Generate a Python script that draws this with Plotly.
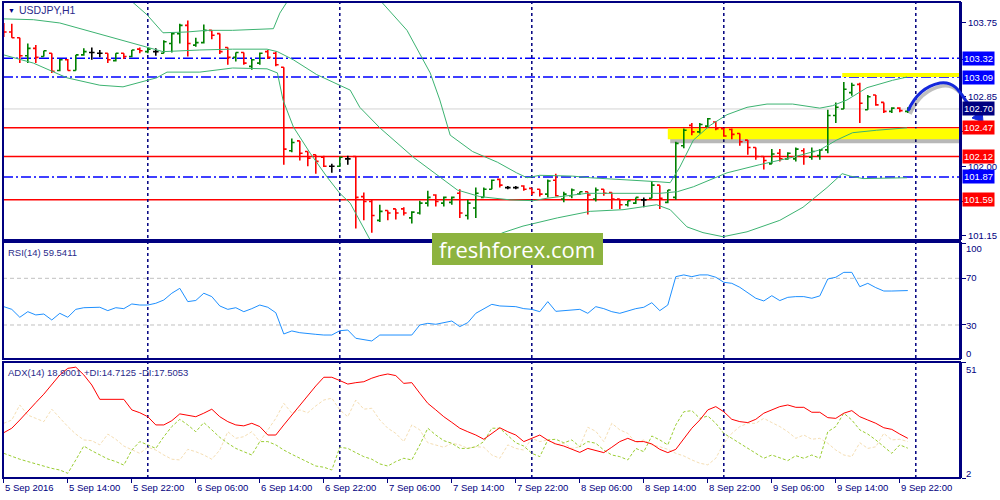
import plotly.graph_objects as go

# ---------------- data ----------------
x_tick_index = [0, 8, 16, 24, 32, 40, 48, 56, 64, 72, 80, 88, 96, 104, 112]
x_tick_labels = ["5 Sep 2016", "5 Sep 14:00", "5 Sep 22:00", "6 Sep 06:00", "6 Sep 14:00",
                 "6 Sep 22:00", "7 Sep 06:00", "7 Sep 14:00", "7 Sep 22:00", "8 Sep 06:00",
                 "8 Sep 14:00", "8 Sep 22:00", "9 Sep 06:00", "9 Sep 14:00", "9 Sep 22:00"]
day_separator_index = [18, 42, 66, 90, 114]

bar_open = [103.70, 103.64, 103.57, 103.35, 103.44, 103.34, 103.38, 103.17, 103.30, 103.17,
            103.36, 103.39, 103.38, 103.38, 103.29, 103.38, 103.34, 103.43, 103.40, 103.40,
            103.38, 103.50, 103.62, 103.72, 103.48, 103.51, 103.66, 103.62, 103.45, 103.33,
            103.39, 103.22, 103.26, 103.40, 103.38, 103.21, 102.19, 102.31, 102.18, 102.14,
            102.11, 102.00, 102.00, 102.09, 102.12, 101.63, 101.57, 101.34, 101.46, 101.48,
            101.48, 101.37, 101.43, 101.55, 101.65, 101.55, 101.56, 101.67, 101.40, 101.49,
            101.62, 101.72, 101.84, 101.74, 101.74, 101.76, 101.73, 101.72, 101.66, 101.83,
            101.60, 101.64, 101.66, 101.69, 101.60, 101.72, 101.68, 101.60, 101.53, 101.55,
            101.59, 101.61, 101.77, 101.56, 101.62, 102.25, 102.50, 102.42, 102.49, 102.54,
            102.46, 102.45, 102.40, 102.32, 102.23, 102.12, 102.03, 102.16, 102.09, 102.09,
            102.19, 102.11, 102.13, 102.20, 102.62, 102.70, 102.90, 103.00, 102.69, 102.87,
            102.78, 102.67, 102.71, 102.67]
bar_high = [103.75, 103.74, 103.57, 103.50, 103.48, 103.41, 103.38, 103.31, 103.31, 103.36,
            103.44, 103.45, 103.42, 103.38, 103.38, 103.38, 103.42, 103.45, 103.45, 103.44,
            103.54, 103.63, 103.74, 103.78, 103.57, 103.73, 103.66, 103.62, 103.45, 103.39,
            103.39, 103.31, 103.39, 103.42, 103.40, 103.21, 102.34, 102.31, 102.18, 102.14,
            102.13, 102.03, 102.12, 102.13, 102.12, 101.68, 101.59, 101.53, 101.46, 101.48,
            101.50, 101.45, 101.58, 101.70, 101.66, 101.63, 101.63, 101.72, 101.59, 101.74,
            101.74, 101.84, 101.85, 101.76, 101.76, 101.77, 101.73, 101.72, 101.84, 101.91,
            101.69, 101.73, 101.69, 101.69, 101.74, 101.72, 101.68, 101.60, 101.58, 101.62,
            101.62, 101.82, 101.77, 101.71, 102.30, 102.46, 102.53, 102.53, 102.59, 102.55,
            102.47, 102.46, 102.40, 102.32, 102.23, 102.12, 102.21, 102.21, 102.17, 102.23,
            102.22, 102.23, 102.21, 102.69, 102.78, 103.03, 103.02, 103.02, 102.87, 102.87,
            102.78, 102.72, 102.72, 102.72]
bar_low = [103.58, 103.57, 103.26, 103.26, 103.26, 103.34, 103.14, 103.16, 103.17, 103.17,
           103.35, 103.30, 103.33, 103.26, 103.28, 103.31, 103.33, 103.38, 103.38, 103.35,
           103.38, 103.39, 103.50, 103.34, 103.46, 103.50, 103.55, 103.37, 103.24, 103.28,
           103.24, 103.18, 103.24, 103.31, 103.22, 102.02, 102.17, 102.07, 102.00, 101.91,
           101.99, 101.92, 101.99, 102.02, 101.24, 101.34, 101.19, 101.32, 101.34, 101.35,
           101.40, 101.30, 101.41, 101.51, 101.51, 101.51, 101.53, 101.37, 101.35, 101.37,
           101.62, 101.72, 101.74, 101.72, 101.72, 101.70, 101.65, 101.63, 101.62, 101.63,
           101.56, 101.61, 101.65, 101.41, 101.57, 101.64, 101.48, 101.48, 101.51, 101.54,
           101.50, 101.61, 101.48, 101.55, 101.59, 102.22, 102.38, 102.40, 102.47, 102.44,
           102.36, 102.33, 102.25, 102.14, 102.08, 101.96, 102.03, 102.06, 102.08, 102.06,
           102.02, 102.08, 102.08, 102.16, 102.53, 102.70, 102.86, 102.53, 102.69, 102.74,
           102.65, 102.65, 102.66, 102.65]
bar_close = [103.64, 103.57, 103.35, 103.44, 103.33, 103.41, 103.16, 103.30, 103.17, 103.36,
             103.40, 103.39, 103.38, 103.30, 103.38, 103.34, 103.42, 103.41, 103.43, 103.40,
             103.52, 103.62, 103.72, 103.50, 103.51, 103.66, 103.60, 103.40, 103.33, 103.39,
             103.26, 103.30, 103.38, 103.33, 103.24, 102.21, 102.29, 102.16, 102.10, 102.06,
             102.00, 102.00, 102.11, 102.09, 101.62, 101.57, 101.40, 101.45, 101.43, 101.43,
             101.43, 101.44, 101.55, 101.62, 101.57, 101.62, 101.62, 101.43, 101.55, 101.67,
             101.72, 101.83, 101.77, 101.74, 101.74, 101.72, 101.68, 101.66, 101.82, 101.64,
             101.66, 101.71, 101.69, 101.65, 101.71, 101.67, 101.60, 101.53, 101.58, 101.62,
             101.59, 101.77, 101.61, 101.71, 102.28, 102.44, 102.42, 102.51, 102.58, 102.46,
             102.37, 102.39, 102.30, 102.23, 102.12, 102.07, 102.15, 102.09, 102.16, 102.21,
             102.12, 102.18, 102.20, 102.62, 102.72, 102.94, 102.99, 102.77, 102.85, 102.75,
             102.67, 102.71, 102.68, 102.70]

bb_upper_x = [0, 8, 14, 15.8, 17.9, 19.9, 22.9, 25.4, 28.6, 33.7, 34.5, 35.4, 38, 44, 47.0,
              50.4, 53.3, 54.5, 55.8, 58.6, 61.7, 64.1, 65.4, 67.0, 71.1, 73.3, 79.5, 82.0,
              83.3, 84.5, 86.2, 88.3, 90.4, 92.9, 95.4, 98.6, 102.0, 103.6, 105.4, 107.9,
              111.1, 112.9]
bb_upper = [104.20, 104.15, 104.08, 104.03, 103.85, 103.63, 103.64, 103.66, 103.66, 103.68,
            103.87, 104.01, 104.40, 104.30, 104.03, 103.66, 103.14, 102.81, 102.38, 102.18,
            102.05, 101.92, 101.86, 101.89, 101.88, 101.86, 101.83, 101.81, 101.80, 101.99,
            102.32, 102.50, 102.63, 102.72, 102.76, 102.76, 102.71, 102.74, 102.81, 102.96,
            103.05, 103.09]
bb_mid_x = [0, 3.7, 7.0, 10.4, 13.3, 17.9, 19.9, 24.5, 28.6, 32.9, 34.2, 36.2, 39.1, 43.3,
            44.5, 47.0, 51.2, 54.5, 56.7, 59.5, 63.3, 66.2, 67.9, 72.9, 79.5, 82.0, 84.2,
            86.2, 90.4, 94.5, 98.6, 102.0, 104.1, 106.1, 109.1, 112.9]
bb_mid = [103.80, 103.79, 103.75, 103.66, 103.58, 103.46, 103.40, 103.42, 103.43, 103.43,
          103.40, 103.30, 103.12, 102.93, 102.72, 102.47, 102.11, 101.87, 101.71, 101.63,
          101.59, 101.58, 101.61, 101.67, 101.67, 101.67, 101.69, 101.75, 101.92, 102.02,
          102.11, 102.20, 102.32, 102.41, 102.44, 102.47]
bb_lower_x = [0, 1.6, 3.7, 7.9, 12.0, 14.9, 17.4, 19.1, 20.4, 24.5, 28.6, 32.9, 34.2, 34.9,
              36.2, 38.3, 40.4, 42.0, 43.3, 45.8, 50, 56, 62.4, 64.9, 69.2, 73.3, 77.4, 81.6,
              83.3, 85.4, 87.4, 89.9, 92.9, 97.0, 99.9, 102.9, 104.8, 105.8, 107.4, 112.9]
bb_lower = [103.36, 103.32, 103.26, 103.08, 102.99, 102.97, 103.03, 103.08, 103.15, 103.15,
            103.20, 103.19, 103.14, 102.81, 102.48, 102.16, 101.87, 101.67, 101.55, 101.10,
            100.80, 100.90, 101.19, 101.27, 101.37, 101.45, 101.47, 101.53, 101.47, 101.26,
            101.19, 101.14, 101.20, 101.34, 101.50, 101.74, 101.91, 101.88, 101.85, 101.86]

rsi = [45.7, 43.4, 36.6, 41.4, 38.6, 39.4, 34.3, 40.0, 36.6, 43.4, 44.8, 45.2, 45.2, 42.3,
       44.8, 44.0, 48.0, 47.1, 47.1, 48.6, 51.4, 57.2, 61.4, 50.0, 51.0, 57.2, 54.3, 46.3,
       43.4, 44.8, 41.4, 44.0, 47.1, 45.2, 40.5, 22.3, 24.9, 23.4, 23.0, 22.0, 21.4, 21.4,
       25.1, 25.7, 18.6, 17.7, 16.3, 21.4, 21.4, 21.4, 21.4, 21.4, 30.0, 31.4, 30.6, 32.0,
       33.4, 28.6, 32.0, 40.0, 44.0, 47.7, 46.3, 45.7, 45.7, 44.0, 43.4, 41.4, 50.0, 41.7,
       42.3, 43.4, 43.4, 40.0, 45.7, 44.0, 41.4, 40.0, 42.3, 44.0, 45.2, 49.1, 42.3, 47.1,
       71.4, 72.9, 71.4, 72.9, 72.9, 70.9, 66.6, 65.7, 62.3, 57.7, 52.9, 50.6, 55.1, 50.9,
       53.7, 54.3, 54.3, 52.9, 54.9, 69.4, 70.9, 75.1, 75.1, 62.8, 65.7, 62.0, 59.1, 59.1,
       59.1, 59.5]
adx = [21.3, 23.2, 26.7, 30.2, 34.1, 37.7, 41.6, 45.9, 48.7, 49.2, 45.9, 41.6, 35.5, 35.5,
       35.5, 35.5, 31.0, 29.8, 28.1, 24.6, 24.6, 26.4, 29.3, 28.8, 28.1, 29.6, 31.3, 28.1,
       26.0, 24.6, 24.2, 25.3, 23.9, 20.3, 20.3, 24.6, 28.8, 33.1, 37.1, 41.2, 44.9, 44.9,
       43.5, 42.0, 42.6, 43.0, 44.5, 45.6, 46.3, 45.6, 42.3, 42.6, 38.1, 33.8, 31.0, 28.1,
       25.7, 23.2, 21.7, 20.3, 18.5, 21.0, 23.4, 21.7, 20.3, 17.5, 18.9, 20.3, 18.1, 16.5,
       15.6, 14.2, 12.9, 14.6, 13.6, 12.8, 15.1, 17.5, 18.9, 17.5, 17.5, 16.5, 14.2, 12.8,
       14.2, 18.9, 23.2, 26.7, 31.0, 32.4, 30.2, 27.0, 26.0, 25.6, 27.0, 29.6, 31.0, 32.4,
       33.1, 32.1, 32.1, 30.0, 30.0, 27.7, 27.4, 29.6, 30.7, 28.1, 26.7, 25.3, 23.4, 22.7,
       20.7, 18.9]
plus_di = [12.5, 11.1, 10.0, 9.0, 8.0, 6.8, 6.1, 5.4, 4.0, 9.7, 15.6, 13.6, 11.8, 10.1, 9.0,
           7.5, 13.9, 17.5, 16.1, 14.6, 19.6, 23.9, 27.0, 24.6, 21.7, 25.6, 22.5, 19.3, 16.8,
           14.6, 13.2, 11.8, 17.5, 17.5, 16.1, 13.9, 12.1, 10.4, 8.5, 7.1, 6.6, 5.4, 15.1,
           14.6, 12.8, 11.1, 10.0, 8.0, 7.1, 9.0, 10.4, 9.7, 16.1, 23.2, 20.3, 17.9, 16.8,
           14.6, 14.6, 15.3, 17.5, 23.2, 23.2, 19.9, 17.0, 15.6, 12.5, 11.1, 18.2, 18.5, 17.0,
           18.2, 15.3, 17.5, 16.8, 13.9, 11.8, 11.1, 9.7, 14.6, 13.2, 19.9, 18.2, 16.1, 24.6,
           30.2, 30.7, 27.4, 28.4, 25.3, 21.0, 18.9, 16.8, 14.6, 12.5, 10.4, 11.8, 10.7, 9.4,
           11.5, 10.4, 11.8, 10.4, 21.7, 23.9, 29.6, 26.7, 22.5, 20.7, 18.2, 15.3, 12.5, 16.1,
           14.7]
minus_di = [25.3, 26.7, 33.1, 28.8, 27.4, 26.0, 31.3, 27.4, 23.9, 20.7, 18.2, 17.9, 16.1,
            20.7, 18.5, 15.6, 13.9, 12.5, 15.1, 13.9, 11.8, 10.0, 9.7, 14.2, 13.2, 11.8, 10.0,
            13.9, 21.7, 18.9, 19.6, 21.7, 17.5, 22.5, 27.4, 33.8, 29.6, 31.0, 29.8, 32.7, 35.2,
            36.0, 31.0, 28.1, 35.2, 31.3, 31.7, 26.7, 23.2, 21.0, 17.5, 24.6, 22.5, 17.0, 16.1,
            15.1, 16.8, 16.1, 14.6, 15.3, 15.1, 11.8, 10.4, 16.1, 14.6, 13.9, 18.9, 17.5, 18.2,
            16.1, 16.8, 14.6, 15.3, 23.6, 21.9, 17.5, 25.3, 22.5, 21.0, 17.0, 18.2, 16.1, 15.3,
            14.2, 12.5, 11.4, 9.7, 8.3, 7.6, 10.4, 16.8, 21.0, 23.9, 25.3, 25.3, 27.4, 25.6,
            23.9, 21.7, 18.9, 20.3, 18.5, 18.9, 16.8, 13.9, 11.8, 11.1, 17.0, 14.6, 15.3, 21.0,
            18.2, 18.5, 17.5]

red_levels = [102.47, 102.12, 101.59]
blue_levels = [103.32, 103.09, 101.87]
bid_price = 102.70
price_ticks = [103.75, 103.30, 102.85, 102.42, 102.00, 101.57, 101.15]
price_tick_text = ["103.75", "", "102.85", "", "102.00", "", "101.15"]
zone_top = [103.09, 103.14]
zone_low = [102.33, 102.46]

# ---------------- layout geometry ----------------
W, H = 1000, 500
ML, MR, MT, MB = 3, 40, 2, 22
PW, PH = W - ML - MR, H - MT - MB


def pxx(p):
    return (p - ML) / PW


def pxy(p):
    return (H - MB - p) / PH


NAVY = "#000080"
FONT = "Liberation Sans"

idx = list(range(len(bar_open)))
up = [i for i in idx if bar_close[i] > bar_open[i]]
dn = [i for i in idx if bar_close[i] < bar_open[i]]
dj = [i for i in idx if bar_close[i] == bar_open[i]]

fig = go.Figure()


def add_ohlc(sel, color):
    fig.add_trace(go.Ohlc(
        x=sel, open=[bar_open[i] for i in sel], high=[bar_high[i] for i in sel],
        low=[bar_low[i] for i in sel], close=[bar_close[i] for i in sel],
        increasing=dict(line=dict(color=color, width=1.6)),
        decreasing=dict(line=dict(color=color, width=1.6)),
        tickwidth=0.35, xaxis="x", yaxis="y", hoverinfo="skip"))


add_ohlc(up, "#008000")
add_ohlc(dn, "#FF0000")
add_ohlc(dj, "#000000")

for bx, by in [(bb_upper_x, bb_upper), (bb_mid_x, bb_mid), (bb_lower_x, bb_lower)]:
    fig.add_trace(go.Scatter(x=bx, y=by, mode="lines", line=dict(color="#3CB371", width=1),
                             xaxis="x", yaxis="y", hoverinfo="skip"))

fig.add_trace(go.Scatter(x=idx, y=rsi, mode="lines", line=dict(color="#1E90FF", width=1),
                         xaxis="x", yaxis="y2", hoverinfo="skip"))
fig.add_trace(go.Scatter(x=idx, y=minus_di, mode="lines",
                         line=dict(color="#F5DEB3", width=1, dash="3px,2px"),
                         xaxis="x", yaxis="y3", hoverinfo="skip"))
fig.add_trace(go.Scatter(x=idx, y=plus_di, mode="lines",
                         line=dict(color="#9ACD32", width=1, dash="3px,2px"),
                         xaxis="x", yaxis="y3", hoverinfo="skip"))
fig.add_trace(go.Scatter(x=idx, y=adx, mode="lines", line=dict(color="#FF0000", width=1),
                         xaxis="x", yaxis="y3", hoverinfo="skip"))

shapes = []
# yellow zones with shadow
shapes.append(dict(type="rect", xref="x", yref="y", x0=83.3, x1=120, y0=zone_low[0] - 0.05,
                   y1=zone_low[1] - 0.04, fillcolor="rgba(0,0,0,0.28)", line_width=0, layer="below"))
shapes.append(dict(type="rect", xref="x", yref="y", x0=83.0, x1=120, y0=zone_low[0],
                   y1=zone_low[1], fillcolor="#FFFF00", line_width=0, layer="below"))
shapes.append(dict(type="rect", xref="x", yref="y", x0=104.8, x1=120, y0=zone_top[0],
                   y1=zone_top[1], fillcolor="#FFFF00", line_width=0, layer="below"))
# bid line
shapes.append(dict(type="line", xref="paper", yref="y", x0=0, x1=1, y0=bid_price, y1=bid_price,
                   line=dict(color="#D3D3D3", width=1), layer="below"))
for v in red_levels:
    shapes.append(dict(type="line", xref="paper", yref="y", x0=0, x1=1, y0=v, y1=v,
                       line=dict(color="#FF0000", width=1.5), layer="below"))
for v in blue_levels:
    shapes.append(dict(type="line", xref="paper", yref="y", x0=0, x1=1, y0=v, y1=v,
                       line=dict(color="#0000FF", width=1.5, dash="10px,3px,2px,3px"), layer="below"))
for v in (70, 30):
    shapes.append(dict(type="line", xref="paper", yref="y2", x0=0, x1=1, y0=v, y1=v,
                       line=dict(color="#C0C0C0", width=1, dash="4px,3px"), layer="below"))
for d in day_separator_index:
    shapes.append(dict(type="line", xref="x", yref="paper", x0=d, x1=d, y0=0, y1=1,
                       line=dict(color=NAVY, width=1.5, dash="3px,3px"), layer="below"))
# panel frames
for top, bot in [(2, 240), (242, 359), (362, 478)]:
    shapes.append(dict(type="rect", xref="paper", yref="paper", x0=0, x1=1,
                       y0=pxy(bot), y1=pxy(top), line=dict(color=NAVY, width=2),
                       fillcolor="rgba(0,0,0,0)", layer="above"))

# watermark
shapes.append(dict(type="rect", xref="paper", yref="paper", x0=pxx(432), x1=pxx(603),
                   y0=pxy(265), y1=pxy(233), fillcolor="#8DB33F", line_width=0, layer="above"))


def ppath(cmds):
    out = []
    for c in cmds:
        if isinstance(c, str):
            out.append(c)
        else:
            out.append(f"{pxx(c[0]):.5f},{pxy(c[1]):.5f}")
    return " ".join(out)


arrow_pts = ["M", (908, 111), "C", (915, 95), (925, 86), (940, 83), "C", (953, 81), (959, 90),
             (966, 101), "L", (977, 115)]
shadow_pts = []
for c in arrow_pts:
    shadow_pts.append(c if isinstance(c, str) else (c[0] + 2, c[1] + 3))
shapes.append(dict(type="path", xref="paper", yref="paper", path=ppath(shadow_pts),
                   line=dict(color="rgba(0,0,0,0.25)", width=3.5), layer="above"))
shapes.append(dict(type="path", xref="paper", yref="paper", path=ppath(arrow_pts),
                   line=dict(color="#1428DC", width=3), layer="above"))
shapes.append(dict(type="path", xref="paper", yref="paper",
                   path=ppath(["M", (983, 122), "L", (982, 110), "L", (972, 118), "Z"]),
                   fillcolor="#1428DC", line=dict(color="#1428DC", width=1), layer="above"))

annotations = []


def txt(x, y, s, size=9.5, color=NAVY, anchor="left", **kw):
    annotations.append(dict(xref="paper", yref="paper", x=pxx(x), y=pxy(y), text=s,
                            showarrow=False, xanchor=anchor, yanchor="middle",
                            font=dict(family=FONT, size=size, color=color), **kw))


txt(6, 10, "▼", size=7, color=NAVY)
txt(17, 10, "USDJPY,H1", size=10.5, color="#2a2a8a")
txt(6, 252, "RSI(14) 59.5411", size=9.5, color="#2a2a8a")
txt(6, 372, "ADX(14) 18.9001 +DI:14.7125 -DI:17.5053", size=9.5, color="#2a2a8a")

for ti, lab in zip(x_tick_index, x_tick_labels):
    annotations.append(dict(xref="x", yref="paper", x=ti - 0.1, y=pxy(488), text=lab,
                            showarrow=False, xanchor="left", yanchor="middle",
                            font=dict(family=FONT, size=9.5, color=NAVY)))

txt(964, 249, "100")
txt(964, 278, "70")
txt(964, 325, "30")
txt(964, 353, "0")
txt(964, 369, "51")
txt(964, 473, "2")

for v, col in ([(v, "#0000FF") for v in blue_levels] + [(v, "#FF0000") for v in red_levels]
               + [(bid_price, NAVY)]):
    annotations.append(dict(xref="paper", yref="y", x=pxx(962), y=v, text=f"{v:.2f}",
                            showarrow=False, xanchor="left", yanchor="middle", bgcolor=col,
                            borderpad=1, font=dict(family=FONT, size=9.5, color="white")))

txt(517, 249, "freshforex.com", size=22, color="white", anchor="center")
annotations[-1]["font"]["family"] = "Open Sans"

fig.update_layout(
    width=W, height=H, margin=dict(l=ML, r=MR, t=MT, b=MB),
    paper_bgcolor="white", plot_bgcolor="white", showlegend=False,
    xaxis=dict(range=[-0.1, 119.525], anchor="y3", tickvals=x_tick_index, ticks="outside",
               ticklen=4, tickcolor=NAVY, showticklabels=False, showgrid=False, zeroline=False,
               showline=False, rangeslider=dict(visible=False)),
    yaxis=dict(domain=[pxy(240), pxy(2)], range=[101.10, 104.006], side="right", anchor="x",
               tickvals=price_ticks, ticktext=price_tick_text,
               ticks="outside", ticklen=4, tickcolor=NAVY, showline=True, linecolor=NAVY,
               linewidth=2, showgrid=False, zeroline=False,
               tickfont=dict(family=FONT, size=9.5, color=NAVY)),
    yaxis2=dict(domain=[pxy(359), pxy(242)], range=[0.86, 101.1], side="right", anchor="x",
                tickvals=[100, 70, 30, 0], ticktext=["", "", "", ""], ticks="outside",
                ticklen=4, tickcolor=NAVY, showline=True, linecolor=NAVY, linewidth=2,
                showgrid=False, zeroline=False),
    yaxis3=dict(domain=[0, pxy(362)], range=[2.0, 51.4], side="right", anchor="x",
                tickvals=[51, 2], ticktext=["", ""], ticks="outside", ticklen=4,
                tickcolor=NAVY, showline=True, linecolor=NAVY, linewidth=2,
                showgrid=False, zeroline=False),
    shapes=shapes, annotations=annotations,
)

fig.write_html("out.html", config={"displayModeBar": False},
               post_script="document.body.style.margin='0';"
                           "document.body.style.overflow='hidden';")
